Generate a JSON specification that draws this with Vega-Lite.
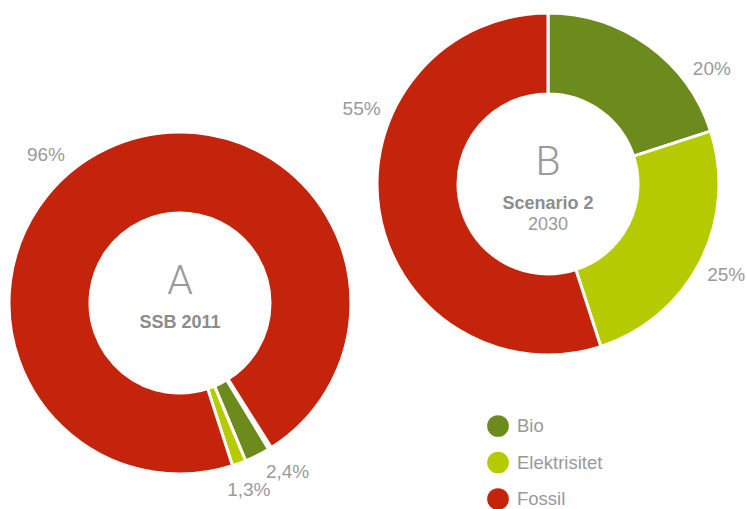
{
  "$schema": "https://vega.github.io/schema/vega-lite/v6.json",
  "width": 747,
  "height": 509,
  "padding": 0,
  "autosize": {"type": "none"},
  "background": "white",
  "config": {"view": {"stroke": null}, "font": "Liberation Sans", "text": {"color": "#9a9a9a", "font": "Liberation Sans"}},
  "datasets": {
    "slices": [
      {"donut": "A", "category": "Bio", "value": 2.4, "label": "2,4%"},
      {"donut": "A", "category": "Elektrisitet", "value": 1.3, "label": "1,3%"},
      {"donut": "A", "category": "Fossil", "value": 96, "label": "96%"},
      {"donut": "B", "category": "Bio", "value": 20, "label": "20%"},
      {"donut": "B", "category": "Elektrisitet", "value": 25, "label": "25%"},
      {"donut": "B", "category": "Fossil", "value": 55, "label": "55%"}
    ],
    "centers": [
      {"donut": "A", "title": "SSB 2011", "sub": ""},
      {"donut": "B", "title": "Scenario 2", "sub": "2030"}
    ]
  },
  "encoding": {
    "x": {"field": "donut", "type": "nominal", "scale": {"type": "point", "domain": ["A", "B"], "range": [180, 548], "padding": 0}, "axis": null},
    "y": {"field": "donut", "type": "nominal", "scale": {"type": "point", "domain": ["A", "B"], "range": [303, 184], "padding": 0}, "axis": null}
  },
  "layer": [
    {
      "data": {"name": "slices"},
      "transform": [{"filter": "datum.donut === 'A'"}],
      "encoding": {
        "order": {"field": "category", "type": "nominal", "sort": "ascending"}
      },
      "layer": [
        {
          "mark": {"type": "arc", "innerRadius": 90, "outerRadius": 171, "stroke": "white", "strokeWidth": 3},
          "encoding": {
            "theta": {"field": "value", "type": "quantitative", "stack": true, "scale": {"domain": [0, 100], "range": [2.597, 8.880]}},
            "color": {
              "field": "category", "type": "nominal",
              "scale": {"domain": ["Bio", "Elektrisitet", "Fossil"], "range": ["#6d8b1c", "#b5cb00", "#c4240c"]},
              "legend": {"orient": "none", "legendX": 487, "legendY": 415, "title": null, "symbolType": "circle", "symbolSize": 470, "symbolStrokeWidth": 0, "symbolOpacity": 1, "labelFontSize": 18.5, "labelColor": "#999999", "labelFont": "Liberation Sans", "labelOffset": 8, "rowPadding": 14.5, "padding": 0}
            }
          }
        },
        {
          "mark": {"type": "text", "radius": 190, "fontSize": 19, "align": "left", "baseline": "middle"},
          "encoding": {
            "theta": {"field": "value", "type": "quantitative", "stack": true, "scale": {"domain": [0, 100], "range": [2.597, 8.880]}},
            "detail": {"field": "category"},
            "text": {"field": "label"},
            "opacity": {"condition": {"test": "datum.category === 'Bio'", "value": 1}, "value": 0}
          }
        },
        {
          "mark": {"type": "text", "radius": 199, "fontSize": 19, "align": "center", "baseline": "middle"},
          "encoding": {
            "theta": {"field": "value", "type": "quantitative", "stack": true, "scale": {"domain": [0, 100], "range": [2.597, 8.880]}},
            "detail": {"field": "category"},
            "text": {"field": "label"},
            "opacity": {"condition": {"test": "datum.category === 'Elektrisitet'", "value": 1}, "value": 0}
          }
        },
        {
          "mark": {"type": "text", "radius": 200, "fontSize": 19, "align": "center", "baseline": "middle"},
          "encoding": {
            "theta": {"field": "value", "type": "quantitative", "stack": true, "scale": {"domain": [0, 100], "range": [2.300, 8.583]}},
            "detail": {"field": "category"},
            "text": {"field": "label"},
            "opacity": {"condition": {"test": "datum.category === 'Fossil'", "value": 1}, "value": 0}
          }
        }
      ],
      "resolve": {"scale": {"theta": "independent"}}
    },
    {
      "data": {"name": "slices"},
      "transform": [{"filter": "datum.donut === 'B'"}],
      "encoding": {
        "order": {"field": "category", "type": "nominal", "sort": "ascending"}
      },
      "layer": [
        {
          "mark": {"type": "arc", "innerRadius": 90, "outerRadius": 171, "stroke": "white", "strokeWidth": 3},
          "encoding": {
            "theta": {"field": "value", "type": "quantitative", "stack": true, "scale": {"domain": [0, 100], "range": [0, 6.2832]}},
            "color": {
              "field": "category", "type": "nominal",
              "scale": {"domain": ["Bio", "Elektrisitet", "Fossil"], "range": ["#6d8b1c", "#b5cb00", "#c4240c"]}
            }
          }
        },
        {
          "mark": {"type": "text", "radius": 200, "fontSize": 19, "align": "center", "baseline": "middle"},
          "encoding": {
            "theta": {"field": "value", "type": "quantitative", "stack": true, "scale": {"domain": [0, 100], "range": [0.332, 6.615]}},
            "detail": {"field": "category"},
            "text": {"field": "label"},
            "opacity": {"condition": {"test": "datum.category === 'Bio'", "value": 1}, "value": 0}
          }
        },
        {
          "mark": {"type": "text", "radius": 200, "fontSize": 19, "align": "center", "baseline": "middle"},
          "encoding": {
            "theta": {"field": "value", "type": "quantitative", "stack": true, "scale": {"domain": [0, 100], "range": [0, 6.2832]}},
            "detail": {"field": "category"},
            "text": {"field": "label"},
            "opacity": {"condition": {"test": "datum.category === 'Elektrisitet'", "value": 1}, "value": 0}
          }
        },
        {
          "mark": {"type": "text", "radius": 201, "fontSize": 19, "align": "center", "baseline": "middle"},
          "encoding": {
            "theta": {"field": "value", "type": "quantitative", "stack": true, "scale": {"domain": [0, 100], "range": [0.541, 6.824]}},
            "detail": {"field": "category"},
            "text": {"field": "label"},
            "opacity": {"condition": {"test": "datum.category === 'Fossil'", "value": 1}, "value": 0}
          }
        }
      ],
      "resolve": {"scale": {"theta": "independent"}}
    },
    {
      "data": {"name": "centers"},
      "layer": [
        {
          "mark": {"type": "text", "font": "Roboto", "fontWeight": 300, "fontSize": 41, "dy": -21, "baseline": "middle", "align": "center"},
          "encoding": {"text": {"field": "donut"}}
        },
        {
          "mark": {"type": "text", "fontWeight": "bold", "fontSize": 18, "dy": 20, "baseline": "middle", "align": "center", "color": "#8c8c8c"},
          "encoding": {"text": {"field": "title"}}
        },
        {
          "mark": {"type": "text", "fontSize": 18, "dy": 41, "baseline": "middle", "align": "center"},
          "encoding": {"text": {"field": "sub"}}
        }
      ]
    }
  ],
  "resolve": {"scale": {"theta": "independent"}}
}
